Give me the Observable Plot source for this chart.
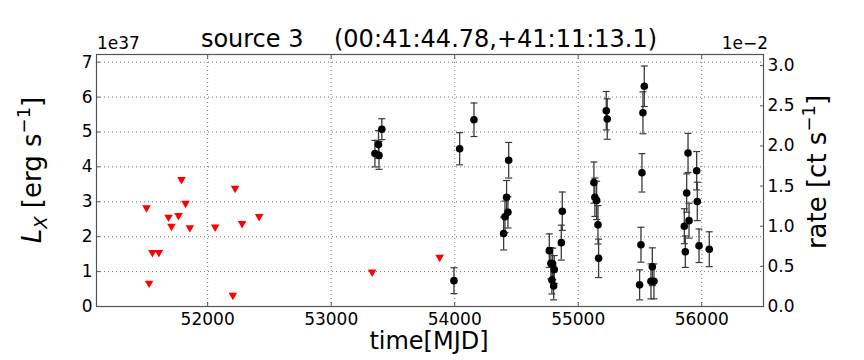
<!DOCTYPE html>
<html>
<head>
<meta charset="utf-8">
<script src="https://cdn.jsdelivr.net/npm/d3@7"></script>
<script src="https://cdn.jsdelivr.net/npm/@observablehq/plot@0.6"></script>
<style>
  html, body { margin: 0; padding: 0; background: #fff; }
  #chart { width: 864px; height: 360px; }
</style>
</head>
<body>
<div id="chart"></div>
<script>
// ---- data (luminosity in units of 1e37 erg/s) ----
const titleText = "source 3    (00:41:44.78,+41:11:13.1)";
const xTicks = [52000, 53000, 54000, 55000, 56000];
const yTicks = [0, 1, 2, 3, 4, 5, 6, 7];
const rateTicks = [0.0, 0.5, 1.0, 1.5, 2.0, 2.5, 3.0];   // units of 1e-2 ct/s
const lumPerRate = 2.30;   // 1e37 erg/s per 1e-2 ct/s
const xDomain = [51100, 56500];
const yDomain = [0, 7.22];

// upper limits
const limitMJD = [51505, 51526, 51553, 51605, 51683, 51707, 51764, 51788, 51821, 51856,
                  52061, 52204, 52222, 52279, 52417, 53332, 53878];
const limitLX  = [2.83, 0.67, 1.55, 1.55, 2.56, 2.30, 2.61, 3.64, 2.96, 2.26,
                  2.28, 0.32, 3.39, 2.38, 2.58, 0.99, 1.41];

// detections
const detMJD = [53354, 53383, 53387, 53410, 53994, 54040, 54156, 54396, 54407, 54420,
                54431, 54437, 54766, 54779, 54787, 54793, 54801, 54806, 54863, 54871,
                55127, 55135, 55149, 55160, 55165, 55227, 55235, 55497, 55508, 55516,
                55524, 55535, 55589, 55600, 55613, 55859, 55867, 55878, 55889, 55897,
                55959, 55964, 55978, 56061];
const detLX  = [4.38, 4.64, 4.33, 5.08, 0.74, 4.52, 5.35, 2.09, 2.57, 3.13,
                2.70, 4.19, 1.60, 1.24, 0.76, 1.22, 0.59, 1.06, 1.83, 2.73,
                3.55, 3.13, 3.04, 2.34, 1.38, 5.61, 5.37, 0.62, 1.77, 3.83,
                5.55, 6.31, 0.72, 1.14, 0.72, 2.30, 1.57, 3.25, 4.40, 2.46,
                3.89, 3.01, 1.74, 1.64];
const detErr = [0.38, 0.40, 0.40, 0.30, 0.37, 0.46, 0.48, 0.47, 0.45, 0.48,
                0.45, 0.51, 0.48, 0.45, 0.40, 0.45, 0.40, 0.40, 0.50, 0.55,
                0.59, 0.55, 0.55, 0.55, 0.55, 0.55, 0.58, 0.43, 0.50, 0.55,
                0.60, 0.58, 0.50, 0.54, 0.50, 0.50, 0.45, 0.55, 0.56, 0.50,
                0.55, 0.55, 0.48, 0.50];

const limits = limitMJD.map((t, i) => ({t, L: limitLX[i]}));
const dets = detMJD.map((t, i) => ({t, L: detLX[i], e: detErr[i]}));

const capSymbol = {
  draw(context, size) {
    const w = Math.sqrt(size / Math.PI);
    context.moveTo(-w, 0);
    context.lineTo(w, 0);
  }
};

const FONT = "DejaVu Sans, Bitstream Vera Sans, sans-serif";
const gridStyle = {stroke: "#000", strokeOpacity: 0.55, strokeDasharray: "1,3"};

const plot = Plot.plot({
  width: 864,
  height: 360,
  marginLeft: 96,
  marginRight: 101,
  marginTop: 54,
  marginBottom: 54,
  style: {fontFamily: FONT, fontSize: "17px", color: "#000", background: "#fff", overflow: "visible"},
  x: {domain: xDomain},
  y: {domain: yDomain},
  marks: [
    Plot.gridX(xTicks, gridStyle),
    Plot.gridY(yTicks, gridStyle),
    // error bars
    Plot.ruleX(dets, {x: "t", y1: d => d.L - d.e, y2: d => d.L + d.e, stroke: "#3a3a3a", strokeWidth: 1.3}),
    Plot.dot(dets, {x: "t", y: d => d.L + d.e, symbol: capSymbol, r: 3.5, stroke: "#3a3a3a", strokeWidth: 1.2, fill: "none"}),
    Plot.dot(dets, {x: "t", y: d => d.L - d.e, symbol: capSymbol, r: 3.5, stroke: "#3a3a3a", strokeWidth: 1.2, fill: "none"}),
    // detections
    Plot.dot(dets, {x: "t", y: "L", r: 3.8, fill: "#000", stroke: "none"}),
    // upper limits
    Plot.dot(limits, {x: "t", y: "L", symbol: "triangle", rotate: 180, r: 3.2, fill: "#ff0000", stroke: "none"}),
    Plot.frame({stroke: "#555", strokeWidth: 1.2}),
    Plot.axisX({ticks: xTicks, anchor: "bottom", tickSize: -4, tickPadding: 10, label: null, tickFormat: d => String(d), fontSize: 17, stroke: "#555"}),
    Plot.axisX({ticks: xTicks, anchor: "top", tickSize: -4, label: null, tickFormat: () => "", stroke: "#555"}),
    Plot.axisY({ticks: yTicks, anchor: "left", tickSize: -4, tickPadding: 8, label: null, tickFormat: d => String(d), fontSize: 17, stroke: "#555"}),
    Plot.axisY(rateTicks.map(r => r * lumPerRate), {anchor: "right", tickSize: -4, tickPadding: 8, label: null, tickFormat: d => (d / lumPerRate).toFixed(1), fontSize: 17, stroke: "#555"})
  ]
});

document.getElementById("chart").appendChild(plot);

// ---- extra texts ----
const svg = d3.select(plot);
const txt = svg.append("g").attr("font-family", FONT).attr("fill", "#000");

txt.append("text").attr("x", 429).attr("y", 47).attr("text-anchor", "middle")
  .attr("font-size", 24).attr("xml:space", "preserve").style("white-space", "pre").text(titleText);

txt.append("text").attr("x", 97).attr("y", 49).attr("text-anchor", "start")
  .attr("font-size", 17).text("1e37");
txt.append("text").attr("x", 768).attr("y", 49).attr("text-anchor", "end")
  .attr("font-size", 17).text("1e\u22122");

txt.append("text").attr("x", 429).attr("y", 349).attr("text-anchor", "middle")
  .attr("font-size", 24).text("time[MJD]");

// left y label
const yl = txt.append("text").attr("transform", "translate(41,170) rotate(-90)")
  .attr("text-anchor", "middle").attr("font-size", 26);
yl.append("tspan").attr("font-style", "italic").text("L");
yl.append("tspan").attr("font-style", "italic").attr("font-size", 18).attr("dy", 6).text("X");
yl.append("tspan").attr("dy", -6).text(" [erg s");
yl.append("tspan").attr("font-size", 18).attr("dy", -11).text("\u22121");
yl.append("tspan").attr("dy", 11).text("]");

// right y label
const yr = txt.append("text").attr("transform", "translate(826,172) rotate(-90)")
  .attr("text-anchor", "middle").attr("font-size", 26);
yr.append("tspan").text("rate [ct s");
yr.append("tspan").attr("font-size", 18).attr("dy", -11).text("\u22121");
yr.append("tspan").attr("dy", 11).text("]");
</script>
</body>
</html>
